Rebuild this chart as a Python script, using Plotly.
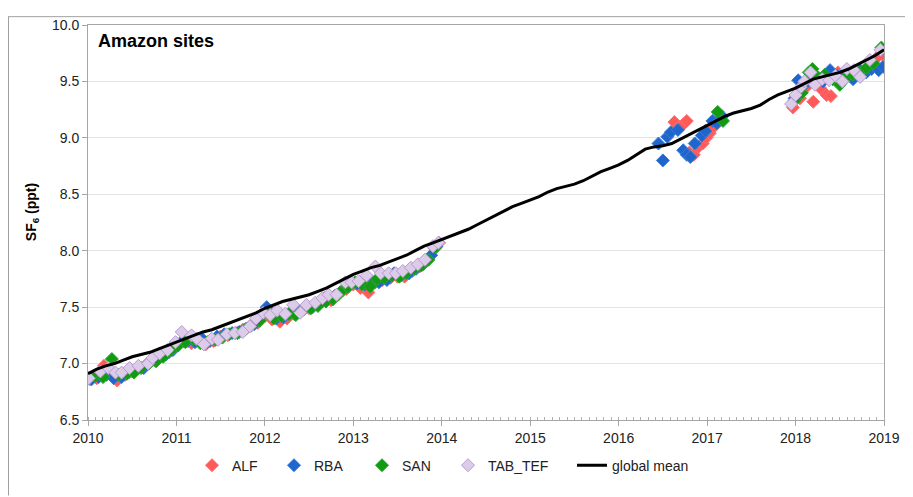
import plotly.graph_objects as go

# ---------------- data ----------------
alf_t = [2010.02, 2010.10, 2010.18, 2010.25, 2010.33, 2010.42, 2010.50, 2010.58, 2010.67, 2010.75,
         2010.83, 2010.92, 2011.00, 2011.08, 2011.17, 2011.25, 2011.33, 2011.42, 2011.50, 2011.58,
         2011.67, 2011.75, 2011.83, 2011.92, 2012.00, 2012.08, 2012.17, 2012.25, 2012.33, 2012.42,
         2012.50, 2012.58, 2012.67, 2012.75, 2012.83, 2012.92, 2013.00, 2013.08, 2013.17, 2013.25,
         2013.33, 2013.42, 2013.50, 2013.58, 2013.67, 2013.75, 2013.83, 2013.92, 2013.97,
         2016.63, 2016.68, 2016.73, 2016.77, 2016.80, 2016.85, 2016.90, 2016.95, 2016.99, 2017.03, 2017.08,
         2017.97, 2018.05, 2018.12, 2018.20, 2018.28, 2018.35, 2018.40, 2018.48, 2018.55, 2018.63,
         2018.72, 2018.80, 2018.88, 2018.93, 2018.98]
alf_v = [6.86, 6.87, 6.98, 6.92, 6.85, 6.90, 6.93, 6.97, 7.00, 7.03,
         7.07, 7.10, 7.16, 7.20, 7.18, 7.21, 7.17, 7.20, 7.24, 7.25,
         7.27, 7.30, 7.33, 7.36, 7.42, 7.39, 7.37, 7.40, 7.44, 7.47,
         7.49, 7.53, 7.58, 7.56, 7.61, 7.66, 7.70, 7.67, 7.63, 7.72,
         7.74, 7.76, 7.77, 7.77, 7.82, 7.86, 7.91, 8.02, 8.07,
         9.14, 9.10, 9.12, 9.15, 8.87, 8.85, 8.92, 8.95, 9.00, 9.04, 9.10,
         9.27, 9.35, 9.45, 9.32, 9.44, 9.38, 9.37, 9.58, 9.52, 9.57,
         9.56, 9.60, 9.65, 9.72, 9.74]

rba_t = [2010.04, 2010.12, 2010.21, 2010.29, 2010.38, 2010.46, 2010.54, 2010.63, 2010.71, 2010.79,
         2010.88, 2010.96, 2011.04, 2011.13, 2011.21, 2011.29, 2011.38, 2011.46, 2011.54, 2011.63,
         2011.71, 2011.79, 2011.88, 2011.96, 2012.02, 2012.13, 2012.21, 2012.29, 2012.38, 2012.46,
         2012.54, 2012.63, 2012.71, 2012.79, 2012.88, 2012.96, 2013.04, 2013.13, 2013.21, 2013.29,
         2013.38, 2013.46, 2013.54, 2013.63, 2013.71, 2013.79, 2013.88, 2013.94,
         2016.45, 2016.50, 2016.55, 2016.59, 2016.67, 2016.73, 2016.77, 2016.81, 2016.86, 2016.94,
         2016.98, 2017.06, 2017.11, 2017.17,
         2017.99, 2018.03, 2018.10, 2018.20, 2018.31, 2018.39, 2018.47, 2018.56, 2018.65, 2018.73,
         2018.80, 2018.86, 2018.94, 2018.99]
rba_v = [6.86, 6.88, 6.90, 6.87, 6.88, 6.92, 6.94, 6.96, 7.02, 7.04,
         7.08, 7.12, 7.18, 7.20, 7.19, 7.22, 7.20, 7.24, 7.26, 7.27,
         7.28, 7.31, 7.35, 7.43, 7.50, 7.40, 7.41, 7.45, 7.47, 7.50,
         7.50, 7.55, 7.57, 7.60, 7.65, 7.70, 7.71, 7.70, 7.73, 7.72,
         7.74, 7.80, 7.78, 7.80, 7.84, 7.88, 7.96, 8.04,
         8.95, 8.80, 9.01, 9.05, 9.07, 8.89, 8.85, 8.83, 8.95, 9.02,
         9.06, 9.15, 9.13, 9.19,
         9.35, 9.51, 9.47, 9.52, 9.50, 9.60, 9.55, 9.58, 9.52, 9.60,
         9.58, 9.61, 9.60, 9.63]

san_t = [2010.00, 2010.08, 2010.17, 2010.27, 2010.35, 2010.44, 2010.52, 2010.60, 2010.69, 2010.77,
         2010.85, 2010.94, 2011.02, 2011.10, 2011.19, 2011.27, 2011.35, 2011.44, 2011.52, 2011.60,
         2011.69, 2011.77, 2011.85, 2011.94, 2012.04, 2012.10, 2012.19, 2012.27, 2012.35, 2012.44,
         2012.52, 2012.60, 2012.69, 2012.77, 2012.85, 2012.94, 2013.02, 2013.10, 2013.19, 2013.27,
         2013.35, 2013.44, 2013.52, 2013.60, 2013.69, 2013.77, 2013.85, 2013.93,
         2017.12, 2017.18,
         2017.99, 2018.07, 2018.15, 2018.19, 2018.25, 2018.33, 2018.42, 2018.50, 2018.58, 2018.65,
         2018.72, 2018.80, 2018.88, 2018.97]
san_v = [6.87, 6.89, 6.88, 7.04, 6.90, 6.91, 6.92, 6.96, 7.00, 7.02,
         7.06, 7.12, 7.16, 7.19, 7.22, 7.18, 7.19, 7.21, 7.23, 7.26,
         7.27, 7.30, 7.34, 7.38, 7.45, 7.40, 7.42, 7.44, 7.43, 7.48,
         7.49, 7.51, 7.55, 7.57, 7.63, 7.68, 7.72, 7.70, 7.68, 7.75,
         7.76, 7.78, 7.77, 7.80, 7.84, 7.87, 7.92, 8.03,
         9.23, 9.15,
         9.33, 9.40, 9.58, 9.61, 9.54, 9.56, 9.52, 9.47, 9.54, 9.56,
         9.58, 9.62, 9.66, 9.80]

tab_t = [2010.01, 2010.14, 2010.23, 2010.31, 2010.38, 2010.47, 2010.57, 2010.68, 2010.73, 2010.81,
         2010.90, 2010.99, 2011.06, 2011.17, 2011.23, 2011.31, 2011.40, 2011.47, 2011.57, 2011.66,
         2011.75, 2011.83, 2011.90, 2011.98, 2012.06, 2012.14, 2012.23, 2012.32, 2012.40, 2012.47,
         2012.57, 2012.65, 2012.72, 2012.81, 2012.91, 2012.98, 2013.06, 2013.15, 2013.25, 2013.31,
         2013.40, 2013.48, 2013.56, 2013.65, 2013.73, 2013.81, 2013.90, 2013.96,
         2017.95, 2018.00, 2018.06, 2018.10, 2018.17, 2018.22, 2018.30, 2018.38, 2018.45, 2018.53,
         2018.58, 2018.66, 2018.73, 2018.84, 2018.96]
tab_v = [6.87, 6.93, 6.96, 6.92, 6.92, 6.96, 6.98, 7.00, 7.05, 7.09,
         7.12, 7.19, 7.28, 7.25, 7.22, 7.17, 7.22, 7.21, 7.26, 7.27,
         7.28, 7.33, 7.40, 7.45, 7.43, 7.47, 7.44, 7.52, 7.45, 7.52,
         7.54, 7.58, 7.61, 7.61, 7.72, 7.72, 7.73, 7.78, 7.86, 7.80,
         7.80, 7.80, 7.82, 7.85, 7.88, 7.92, 8.04, 8.07,
         9.30, 9.38, 9.45, 9.50, 9.58, 9.47, 9.52, 9.51, 9.55, 9.50,
         9.61, 9.60, 9.54, 9.69, 9.78]

gm_t = [2010.0, 2010.1, 2010.2, 2010.3, 2010.4, 2010.5, 2010.6, 2010.7, 2010.8, 2010.9,
        2011.0, 2011.1, 2011.2, 2011.3, 2011.4, 2011.5, 2011.6, 2011.7, 2011.8, 2011.9,
        2012.0, 2012.1, 2012.2, 2012.3, 2012.4, 2012.5, 2012.6, 2012.7, 2012.8, 2012.9,
        2013.0, 2013.1, 2013.2, 2013.3, 2013.4, 2013.5, 2013.6, 2013.7, 2013.8, 2013.9,
        2014.0, 2014.1, 2014.2, 2014.3, 2014.4, 2014.5, 2014.6, 2014.7, 2014.8, 2014.9,
        2015.0, 2015.1, 2015.2, 2015.3, 2015.4, 2015.5, 2015.6, 2015.7, 2015.8, 2015.9,
        2016.0, 2016.1, 2016.2, 2016.3, 2016.4, 2016.5, 2016.6, 2016.7, 2016.8, 2016.9,
        2017.0, 2017.1, 2017.2, 2017.3, 2017.4, 2017.5, 2017.6, 2017.7, 2017.8, 2017.9,
        2018.0, 2018.1, 2018.2, 2018.3, 2018.4, 2018.5, 2018.6, 2018.7, 2018.8, 2018.9,
        2019.0]
gm_v = [6.91, 6.95, 6.98, 7.00, 7.03, 7.06, 7.08, 7.10, 7.13, 7.16,
        7.19, 7.22, 7.25, 7.28, 7.30, 7.33, 7.36, 7.39, 7.42, 7.45,
        7.49, 7.52, 7.55, 7.57, 7.59, 7.61, 7.64, 7.67, 7.71, 7.75,
        7.79, 7.82, 7.85, 7.87, 7.90, 7.93, 7.96, 8.00, 8.04, 8.07,
        8.10, 8.13, 8.16, 8.19, 8.23, 8.27, 8.31, 8.35, 8.39, 8.42,
        8.45, 8.48, 8.52, 8.55, 8.57, 8.59, 8.62, 8.66, 8.70, 8.73,
        8.76, 8.80, 8.85, 8.90, 8.92, 8.93, 8.95, 8.99, 9.03, 9.07,
        9.11, 9.15, 9.19, 9.22, 9.24, 9.26, 9.29, 9.34, 9.38, 9.41,
        9.44, 9.48, 9.52, 9.54, 9.56, 9.58, 9.61, 9.65, 9.69, 9.73,
        9.78]

year_ticks = [2010, 2011, 2012, 2013, 2014, 2015, 2016, 2017, 2018, 2019]
y_ticks = [6.5, 7.0, 7.5, 8.0, 8.5, 9.0, 9.5, 10.0]

# ---------------- figure ----------------
FONT = "Liberation Sans, Arial, sans-serif"
fig = go.Figure()

# page is offset by an 8px body margin; figure drawn in a 905x489 box
W, H = 905, 489
L, R, T, B = 80, 29, 9, 77
pw = W - L - R
ph = H - T - B


def lx(text_page_x):
    # legend box left for a given text start (page px)
    return (text_page_x - 40 - 88) / pw


def site(name, t, v, fill, edge, leg):
    fig.add_trace(go.Scatter(
        x=t, y=v, mode="markers", name=name, legend=leg,
        marker=dict(symbol="diamond", size=10, color=fill,
                    line=dict(color=edge, width=1)),
    ))


site("ALF", alf_t, alf_v, "#FF5A5A", "#FF7070", "legend")
site("RBA", rba_t, rba_v, "#1F66CC", "#3A7AD8", "legend2")
site("SAN", san_t, san_v, "#129A12", "#2AAA2A", "legend3")
site("TAB_TEF", tab_t, tab_v, "#DCCCEA", "#B49CCE", "legend4")

fig.add_trace(go.Scatter(
    x=gm_t, y=gm_v, mode="lines", name="global mean", legend="legend5",
    line=dict(color="black", width=3),
))

leg_common = dict(orientation="h", xanchor="left", y=-0.075, yanchor="top",
                  font=dict(size=14, color="#222222", family=FONT),
                  itemwidth=30, bgcolor="rgba(0,0,0,0)")

fig.update_layout(
    width=W, height=H,
    margin=dict(l=L, r=R, t=T, b=B, pad=0),
    paper_bgcolor="white", plot_bgcolor="white",
    font=dict(family=FONT, size=14, color="#222222"),
    showlegend=True,
    legend=dict(x=lx(232), **leg_common),
    legend2=dict(x=lx(314), **leg_common),
    legend3=dict(x=lx(402), **leg_common),
    legend4=dict(x=lx(488), **leg_common),
    legend5=dict(x=lx(612), **leg_common),
    xaxis=dict(range=[2010, 2019], tickvals=year_ticks,
               ticktext=[str(v) for v in year_ticks],
               showgrid=False, zeroline=False,
               showline=True, linecolor="#A6A6A6", linewidth=1, mirror=True,
               ticks="outside", ticklen=5, tickcolor="#A6A6A6",
               minor=dict(dtick=1 / 12, tick0=2010, ticks="inside", ticklen=3,
                          tickcolor="#B0B0B0", showgrid=False),
               tickfont=dict(size=14)),
    yaxis=dict(range=[6.5, 10.0], tickvals=y_ticks,
               ticktext=["%.1f" % v for v in y_ticks],
               showgrid=True, gridcolor="#E3E3E3", gridwidth=1, zeroline=False,
               showline=True, linecolor="#A6A6A6", linewidth=1, mirror=True,
               ticks="outside", ticklen=5, tickcolor="#A6A6A6",
               tickfont=dict(size=14)),
    annotations=[
        dict(text="<b>Amazon sites</b>", xref="paper", yref="paper",
             x=(88 - 8 + 8 - L + 8) / pw * 0 + (96 - 88) / pw, y=1 - (13 - T) / ph,
             xanchor="left", yanchor="top",
             showarrow=False, font=dict(size=18, color="black")),
        dict(text="<b>SF<sub>6</sub> (ppt)</b>", xref="paper", yref="paper",
             x=(24 - L) / pw, y=(412 - 200) / ph, xanchor="center", yanchor="middle",
             textangle=-90, showarrow=False, font=dict(size=14, color="black")),
    ],
    shapes=[
        dict(type="line", xref="paper", yref="paper",
             x0=(0.5 - L) / pw, x1=(0.5 - L) / pw, y0=(412 - H) / ph, y1=(412 - 0.5) / ph,
             line=dict(color="#A0A0A0", width=1)),
        dict(type="line", xref="paper", yref="paper",
             x0=(0 - L) / pw, x1=(W - L) / pw, y0=(412 - 0.5) / ph, y1=(412 - 0.5) / ph,
             line=dict(color="#A0A0A0", width=1)),
    ],
)

fig.write_html("out.html")
